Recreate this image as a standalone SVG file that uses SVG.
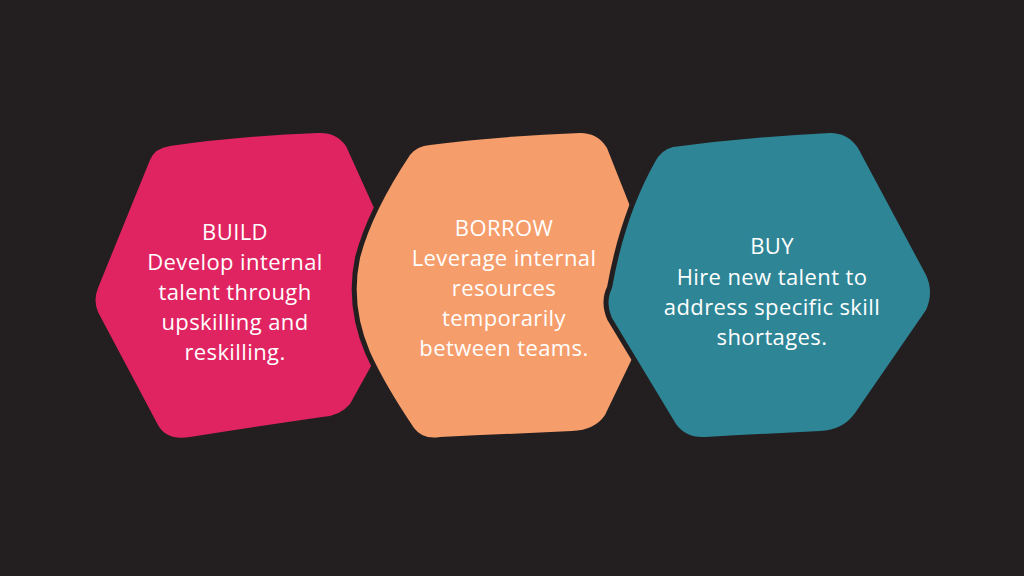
<svg xmlns="http://www.w3.org/2000/svg" width="1024" height="576" viewBox="0 0 1024 576">
<style>
.blob{stroke:#231F20;stroke-width:10;stroke-linejoin:round;paint-order:stroke}
.t{font-family:"Open Sans","Noto Sans",sans-serif;font-size:22px;letter-spacing:0.4px;fill:#FFFFFF;text-anchor:middle}
</style>
<rect x="0" y="0" width="1024" height="576" fill="#231F20"/>
<g id="build">
<path class="blob" fill="#E02461" d="M170,146 Q240,136 318,133 Q336,132 346,146 L412,292 L350,404 Q340,416 322,417 Q260,426 190,437 Q167,441 158,425 L98,312 Q93,300 98,288 L150,160 Q155,148 170,146 Z"/>
<text class="t" x="235" y="240">BUILD</text>
<text class="t" x="235" y="270">Develop internal</text>
<text class="t" x="235" y="300">talent through</text>
<text class="t" x="235" y="330">upskilling and</text>
<text class="t" x="235" y="360">reskilling.</text>
</g>
<g id="borrow">
<path class="blob" fill="#F69D6C" d="M430,145 Q500,136 580,133 Q598,133 607,148 L664,292 L605,415 Q595,430 572,431 Q505,434 440,437 Q423,440 414,428 Q385,385 370,352 Q350,305 360,258 Q372,212 410,155 Q417,146 430,145 Z"/>
<text class="t" x="504" y="236">BORROW</text>
<text class="t" x="504" y="266">Leverage internal</text>
<text class="t" x="504" y="296">resources</text>
<text class="t" x="504" y="326">temporarily</text>
<text class="t" x="504" y="356">between teams.</text>
</g>
<g id="buy">
<path class="blob" fill="#2E8596" d="M673,147 Q750,137 830,133 Q848,133 858,148 L926,275 Q934,292 926,310 L855,413 Q843,430 820,431 Q760,434 705,437 Q686,438 676,424 L612,318 Q605,302 612,288 Q625,215 655,162 Q661,150 673,147 Z"/>
<text class="t" x="772" y="254">BUY</text>
<text class="t" x="772" y="285">Hire new talent to</text>
<text class="t" x="772" y="315">address specific skill</text>
<text class="t" x="772" y="345">shortages.</text>
</g>
<g id="connectors"></g>
</svg>
